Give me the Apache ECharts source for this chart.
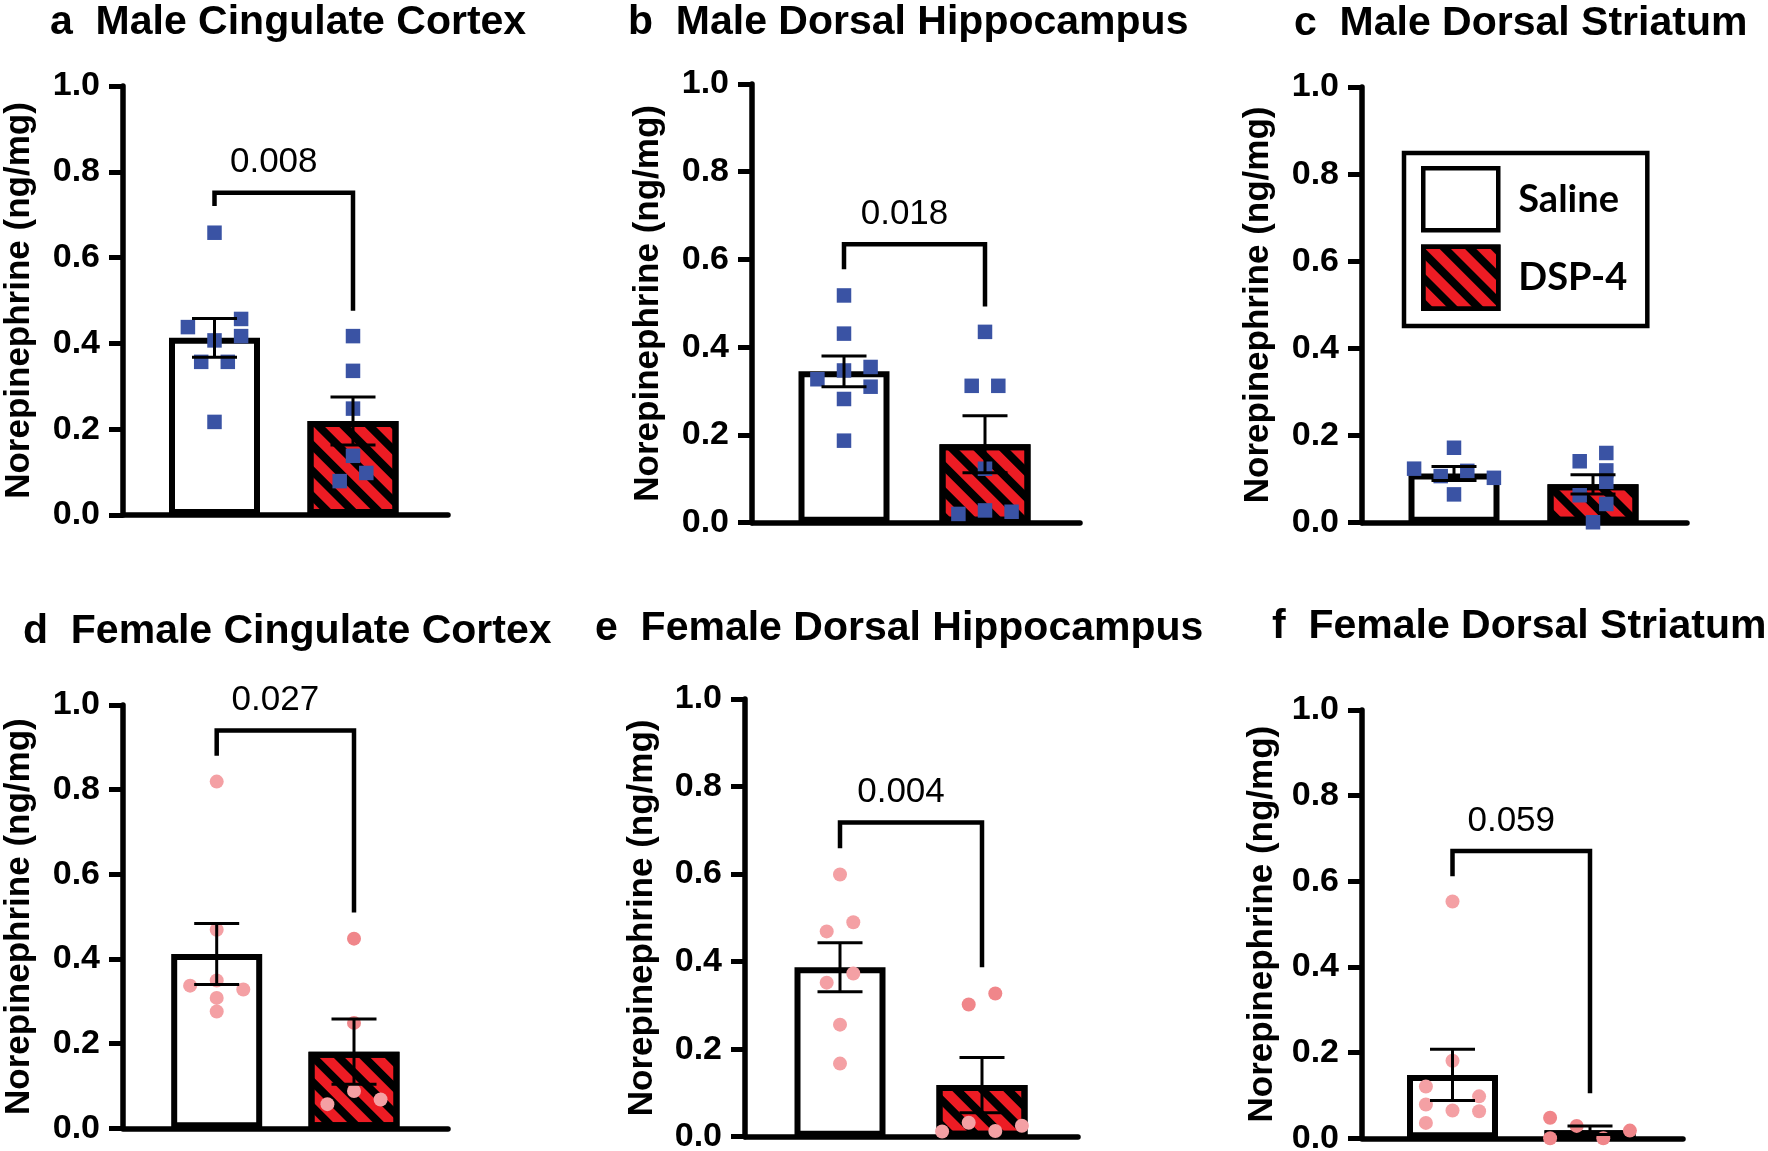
<!DOCTYPE html>
<html>
<head>
<meta charset="utf-8">
<script src="https://cdn.jsdelivr.net/npm/echarts@6/dist/echarts.min.js"></script>
<style>
html,body{margin:0;padding:0;background:#fff;}
#chart{width:1768px;height:1151px;}
</style>
</head>
<body>
<div id="chart"></div>
<script>
// ---------------- DATA ----------------
const panelTitles = [
  'a  Male Cingulate Cortex',
  'b  Male Dorsal Hippocampus',
  'c  Male Dorsal Striatum',
  'd  Female Cingulate Cortex',
  'e  Female Dorsal Hippocampus',
  'f  Female Dorsal Striatum'
];
const groups = ['Saline', 'DSP-4'];
const yAxisTitle = 'Norepinephrine (ng/mg)';
const yTickLabels = ['0.0', '0.2', '0.4', '0.6', '0.8', '1.0'];
const isMale = [true, true, true, false, false, false];

const salineMean = [0.413, 0.345, 0.113, 0.412, 0.387, 0.148];
const salineSem  = [0.045, 0.035, 0.016, 0.072, 0.056, 0.060];
const dspMean    = [0.219, 0.179, 0.088, 0.181, 0.118, 0.019];
const dspSem     = [0.056, 0.065, 0.022, 0.077, 0.063, 0.010];

const salinePoints = [
  [0.658, 0.438, 0.457, 0.417, 0.407, 0.357, 0.357, 0.217],
  [0.518, 0.431, 0.327, 0.347, 0.355, 0.310, 0.282, 0.187],
  [0.172, 0.124, 0.107, 0.119, 0.103, 0.065],
  [0.819, 0.469, 0.337, 0.349, 0.328, 0.308, 0.276],
  [0.599, 0.490, 0.469, 0.373, 0.352, 0.256, 0.167],
  [0.553, 0.181, 0.121, 0.098, 0.079, 0.065, 0.063, 0.036]
];
const salineSlots = [
  [0, -2, 2, 2, 0, -1, 1, 0],
  [0, 0, -2, 0, 2, 2, 0, 0],
  [0, -3, -1, 1, 3, 0],
  [0, 0, -2, 0, 2, 0, 0],
  [0, 1, -1, 1, -1, 0, 0],
  [0, 0, -2, 2, -2, 0, 2, -2]
];
const dspPoints = [
  [0.417, 0.336, 0.248, 0.138, 0.098, 0.079],
  [0.435, 0.312, 0.312, 0.123, 0.020, 0.028, 0.025],
  [0.141, 0.160, 0.120, 0.094, 0.063, 0.043, 0.001],
  [0.448, 0.249, 0.088, 0.057, 0.068],
  [0.327, 0.302, 0.032, 0.013, 0.012, 0.025],
  [0.048, 0.029, 0.018, 0.000, 0.000]
];
const dspSlots = [
  [0, 0, 0, 0, 1, -1],
  [0, -1, 1, 0, -2, 0, 2],
  [-1, 1, 1, 1, -1, 1, 0],
  [0, 0, 0, -2, 2],
  [1, -1, -1, 1, -3, 3],
  [-3, -1, 3, -3, 1]
];

const pValues        = ['0.008', '0.018', null, '0.027', '0.004', '0.059'];
const bracketTop     = [0.751, 0.635, null, 0.940, 0.718, 0.671];
const bracketLeftEnd = [0.720, 0.578, null, 0.880, 0.659, 0.612];
const bracketRightEnd= [0.476, 0.493, null, 0.510, 0.387, 0.105];

// ---------------- LAYOUT (pixels) ----------------
const layout = [
  {axisX: 123,  c1: 214.5,  c2: 353, end: 448,  top: 86,  bottom: 515,    tx: 50,   ty: 2,   nameGap: 86},
  {axisX: 752,  c1: 844,    c2: 985, end: 1080, top: 84,  bottom: 522.7,  tx: 628,  ty: 2,   nameGap: 86},
  {axisX: 1362, c1: 1454,   c2: 1593, end: 1687, top: 87, bottom: 522.7,  tx: 1294, ty: 3,   nameGap: 86},
  {axisX: 123,  c1: 216.7,  c2: 354, end: 448,  top: 705, bottom: 1128.3, tx: 23,   ty: 611, nameGap: 86},
  {axisX: 745,  c1: 840,    c2: 982, end: 1078, top: 699, bottom: 1136.7, tx: 595,  ty: 608, nameGap: 85},
  {axisX: 1362, c1: 1452.5, c2: 1590, end: 1683, top: 710, bottom: 1138.3, tx: 1272, ty: 606, nameGap: 82}
];
const slotPx = 13.3;
const barWidthPx = 91;
const capPx = 45;
const FONT = '"Liberation Sans", Arial, Helvetica, sans-serif';

const RED = '#ed1c24';
const BLUE = '#3a53a4';
const PINK_S = '#f4a0a4';
const PINK_D = '#f0868a';

const hatch = {
  symbol: 'rect', symbolSize: 1,
  dashArrayX: [1, 0], dashArrayY: [8, 10],
  rotation: Math.PI / 4, color: '#000'
};

// ---------------- OPTION ----------------
const grids = [], xAxes = [], yAxes = [], series = [], titles = [];

layout.forEach((L, i) => {
  const unit = L.c2 - L.c1;
  grids.push({
    left: L.axisX, top: L.top, width: L.end - L.axisX, height: L.bottom - L.top,
    containLabel: false, outerBoundsMode: 'none'
  });
  xAxes.push({
    type: 'value', gridIndex: i,
    min: 1 - (L.c1 - L.axisX) / unit,
    max: 2 + (L.end - L.c2) / unit,
    axisLine: {show: true, onZero: false, lineStyle: {color: '#000', width: 5.5}},
    axisTick: {show: false}, axisLabel: {show: false}, splitLine: {show: false}
  });
  yAxes.push({
    type: 'value', gridIndex: i, min: 0, max: 1, interval: 0.2,
    name: yAxisTitle, nameLocation: 'middle', nameGap: L.nameGap,
    nameTextStyle: {fontFamily: FONT, fontWeight: 'bold', fontSize: 35, color: '#000'},
    axisLine: {show: true, onZero: false, lineStyle: {color: '#000', width: 5.5}},
    axisTick: {show: true, length: 14, lineStyle: {color: '#000', width: 5}},
    axisLabel: {
      fontFamily: FONT, fontWeight: 'bold', fontSize: 34, color: '#000', margin: 23,
      formatter: (v) => yTickLabels[Math.round(v / 0.2)]
    },
    splitLine: {show: false}
  });
  titles.push({
    text: panelTitles[i], left: L.tx, top: L.ty, padding: 0,
    textStyle: {fontFamily: FONT, fontWeight: 'bold', fontSize: 41, color: '#000'}
  });

  // bars
  series.push({
    name: groups[0], type: 'bar', xAxisIndex: i, yAxisIndex: i,
    barWidth: barWidthPx, barGap: '-100%', z: 2,
    itemStyle: {color: '#fff', borderColor: '#000', borderWidth: 6},
    data: [[1, salineMean[i]]]
  });
  series.push({
    name: groups[1], type: 'bar', xAxisIndex: i, yAxisIndex: i,
    barWidth: barWidthPx, barGap: '-100%', z: 2,
    itemStyle: {color: RED, borderColor: '#000', borderWidth: 6, decal: hatch},
    data: [[2, dspMean[i]]]
  });

  // individual points
  const sym = isMale[i] ? 'rect' : 'circle';
  const symSize = isMale[i] ? 14.5 : 14;
  series.push({
    name: groups[0] + ' points', type: 'scatter', xAxisIndex: i, yAxisIndex: i,
    symbol: sym, symbolSize: symSize, z: 3, clip: false,
    itemStyle: {color: isMale[i] ? BLUE : PINK_S, opacity: 1},
    data: salinePoints[i].map((v, k) => [1 + salineSlots[i][k] * slotPx / unit, v])
  });
  series.push({
    name: groups[1] + ' points', type: 'scatter', xAxisIndex: i, yAxisIndex: i,
    symbol: sym, symbolSize: symSize, z: 3, clip: false,
    itemStyle: {
      opacity: 1,
      color: isMale[i] ? BLUE : (p) => {
        const v = p.value[1];
        // symbols sitting on the hatched bar look lighter in the reference
        return (v > 0.005 && v < dspMean[i] - 0.015) ? PINK_S : PINK_D;
      }
    },
    data: dspPoints[i].map((v, k) => [2 + dspSlots[i][k] * slotPx / unit, v])
  });

  // error bars (mean ± SEM)
  series.push({
    name: 'SEM', type: 'custom', xAxisIndex: i, yAxisIndex: i, z: 4, clip: false,
    data: [[1, salineMean[i], salineSem[i]], [2, dspMean[i], dspSem[i]]],
    renderItem: (params, api) => {
      const x = api.value(0), m = api.value(1), s = api.value(2);
      const lo = api.coord([x, m - s]), hi = api.coord([x, m + s]);
      const h = capPx / 2;
      const st = {stroke: '#000', lineWidth: 3};
      return {type: 'group', children: [
        {type: 'line', shape: {x1: lo[0], y1: lo[1], x2: hi[0], y2: hi[1]}, style: st},
        {type: 'line', shape: {x1: hi[0] - h, y1: hi[1], x2: hi[0] + h, y2: hi[1]}, style: st},
        {type: 'line', shape: {x1: lo[0] - h, y1: lo[1], x2: lo[0] + h, y2: lo[1]}, style: st}
      ]};
    }
  });

  // significance bracket
  if (pValues[i] !== null) {
    series.push({
      name: 'p', type: 'custom', xAxisIndex: i, yAxisIndex: i, z: 4, clip: false,
      data: [[1, 2, bracketTop[i], bracketLeftEnd[i], bracketRightEnd[i]]],
      renderItem: (params, api) => {
        const xl = api.value(0), xr = api.value(1);
        const pL = api.coord([xl, api.value(3)]);
        const pLT = api.coord([xl, api.value(2)]);
        const pRT = api.coord([xr, api.value(2)]);
        const pR = api.coord([xr, api.value(4)]);
        return {type: 'group', children: [
          {type: 'polyline', shape: {points: [pL, pLT, pRT, pR]},
           style: {stroke: '#000', lineWidth: 4.5, fill: null, lineJoin: 'miter'}},
          {type: 'text', x: (pLT[0] + pRT[0]) / 2 - 10, y: pLT[1] - 30,
           style: {text: pValues[i], fill: '#000', font: '35px ' + FONT,
                   align: 'center', verticalAlign: 'middle',
                   textAlign: 'center', textVerticalAlign: 'middle'}}
        ]};
      }
    });
  }
});

const option = {
  backgroundColor: '#fff',
  animation: false,
  title: titles,
  grid: grids,
  xAxis: xAxes,
  yAxis: yAxes,
  legend: {
    show: true, selectedMode: false,
    orient: 'vertical', left: 1404, top: 153,
    padding: [13, 20, 15, 17],
    borderColor: '#000', borderWidth: 4.5, backgroundColor: '#fff',
    itemWidth: 75, itemHeight: 62, itemGap: 12,
    textStyle: {fontFamily: 'Lato, "Noto Sans", sans-serif', fontWeight: 'bold', fontSize: 38, color: '#000', padding: [0, 0, 0, 15]},
    data: [
      {name: groups[0], icon: 'rect', itemStyle: {color: '#fff', borderColor: '#000', borderWidth: 4.5}},
      {name: groups[1], icon: 'rect', itemStyle: {color: RED, borderColor: '#000', borderWidth: 4.5, decal: hatch}}
    ]
  },
  series: series
};

const chart = echarts.init(document.getElementById('chart'), null, {renderer: 'canvas'});
chart.setOption(option);
</script>
</body>
</html>
